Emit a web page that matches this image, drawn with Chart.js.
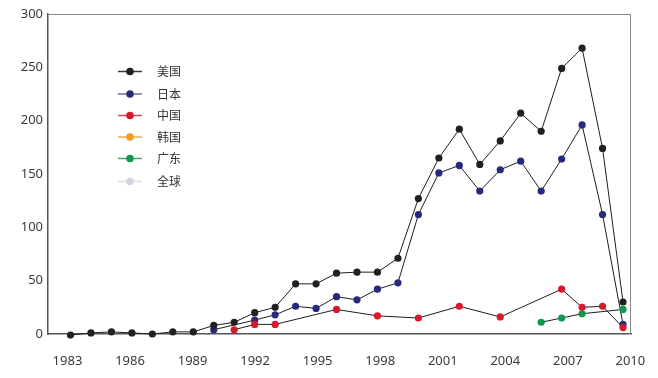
<!DOCTYPE html>
<html>
<head>
<meta charset="utf-8">
<script src="https://cdn.jsdelivr.net/npm/chart.js@4"></script>
<style>
  html, body { margin: 0; padding: 0; background: #fff; }
  #wrap { width: 658px; height: 378px; }
</style>
</head>
<body>
<div id="wrap"><canvas id="patentChart"></canvas></div>
<script>
// years and series
const years = [1983, 1984, 1985, 1986, 1987, 1988, 1989, 1990, 1991, 1992, 1993, 1994, 1995, 1996,
               1997, 1998, 1999, 2000, 2001, 2002, 2003, 2004, 2005, 2006, 2007, 2008, 2009, 2010];
const tickYears = [1983, 1986, 1989, 1992, 1995, 1998, 2001, 2004, 2007, 2010];

const usa = [-1, 1, 2, 1, 0, 2, 2, 8, 11, 20, 25, 47, 47, 57,
             58, 58, 71, 127, 165, 192, 159, 181, 207, 190, 249, 268, 174, 30];
const japan = [null, null, null, null, null, null, null, 4, null, 13, 18, 26, 24, 35,
               32, 42, 48, 112, 151, 158, 134, 154, 162, 134, 164, 196, 112, 9];
const china = [null, null, null, null, null, null, null, null, 4, 9, 9, null, null, 23,
               null, 17, null, 15, null, 26, null, 16, null, null, 42, 25, 26, 6];
const korea = [];
const guangdong = [null, null, null, null, null, null, null, null, null, null, null, null, null, null,
                   null, null, null, null, null, null, null, null, null, 11, 15, 19, null, 23];
const world = [];

const seriesNames = ['美国', '日本', '中国', '韩国', '广东', '全球'];
const dotColors = ['#231f20', '#262a7c', '#d6192b', '#f29a1f', '#0d9a4e', '#d3d3e8'];
const legendLineColors = ['#3a3a3a', '#6c6f99', '#d0465a', '#f0aa50', '#4f9f74', '#dcdcec'];
// which series sits on top (lower = drawn later)
const drawOrder = [0, 3, 1, 4, 2, 5];

function toPoints(arr) {
    return years.map((yr, i) => ({ x: yr, y: arr[i] === undefined ? null : arr[i] }));
}

// top/right frame lines
const framePlugin = {
    id: 'frame',
    beforeDatasetsDraw(chart) {
        const { ctx, chartArea: a } = chart;
        ctx.save();
        ctx.strokeStyle = '#8a8a8a';
        ctx.lineWidth = 1;
        ctx.beginPath();
        ctx.moveTo(a.left, a.top + 0.5);
        ctx.lineTo(a.right - 0.5, a.top + 0.5);
        ctx.lineTo(a.right - 0.5, a.bottom);
        ctx.stroke();
        ctx.restore();
    }
};

// legend with line + dot markers
const legendPlugin = {
    id: 'lineDotLegend',
    afterDraw(chart) {
        const ctx = chart.ctx;
        const rows = [71.5, 94, 115.5, 137, 158.5, 181.5];
        ctx.save();
        ctx.font = '12px "Noto Sans CJK SC"';
        ctx.textBaseline = 'middle';
        seriesNames.forEach((name, i) => {
            const y = rows[i];
            ctx.strokeStyle = legendLineColors[i];
            ctx.lineWidth = 1.5;
            ctx.beginPath();
            ctx.moveTo(118, y);
            ctx.lineTo(142, y);
            ctx.stroke();
            ctx.fillStyle = dotColors[i];
            ctx.beginPath();
            ctx.arc(130, y, 3.8, 0, Math.PI * 2);
            ctx.fill();
            ctx.fillStyle = '#333';
            ctx.fillText(name, 157, y);
        });
        ctx.restore();
    }
};

const seriesData = [usa, japan, china, korea, guangdong, world];

new Chart(document.getElementById('patentChart'), {
    type: 'line',
    data: {
        datasets: seriesData.map((arr, i) => ({
            label: seriesNames[i],
            data: toPoints(arr),
            xAxisID: 'xp',
            order: drawOrder[i],
            borderColor: '#1e1e1e',
            borderWidth: 1,
            pointRadius: 3.6,
            pointBorderWidth: 0,
            pointBackgroundColor: dotColors[i],
            spanGaps: true,
            tension: 0,
            clip: false
        }))
    },
    options: {
        animation: false,
        responsive: true,
        maintainAspectRatio: false,
        layout: { padding: { left: 0, top: 14, right: 27, bottom: 0 } },
        plugins: {
            legend: { display: false },
            tooltip: { enabled: false }
        },
        scales: {
            xp: {
                type: 'linear',
                display: false,
                min: 1981.9,
                max: 2010.39
            },
            x: {
                type: 'linear',
                position: 'bottom',
                min: 1982.065,
                max: 2010.03,
                afterBuildTicks: axis => { axis.ticks = tickYears.map(v => ({ value: v })); },
                afterFit: axis => {
                    axis.height = 44;
                    axis.paddingLeft = 0;
                    axis.paddingRight = 0;
                },
                grid: { display: false, drawTicks: false },
                border: { color: '#555', width: 1.5 },
                ticks: {
                    padding: 19,
                    maxRotation: 0,
                    autoSkip: false,
                    color: '#3a3a3a',
                    font: { family: '"Noto Sans"', size: 13 },
                    callback: v => String(v)
                }
            },
            y: {
                min: 0,
                max: 300,
                afterFit: axis => {
                    axis.width = 48;
                    axis.paddingTop = 0;
                    axis.paddingBottom = 0;
                },
                grid: { display: false, drawTicks: false },
                border: { color: '#555', width: 1.5 },
                ticks: {
                    stepSize: 50,
                    padding: 5,
                    color: '#3a3a3a',
                    font: { family: '"Noto Sans"', size: 13 }
                }
            }
        }
    },
    plugins: [framePlugin, legendPlugin]
});
</script>
</body>
</html>
